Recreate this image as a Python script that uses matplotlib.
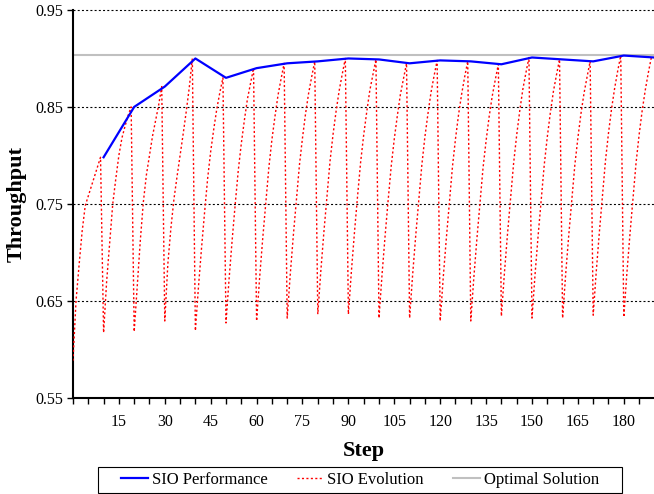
"""SIO throughput vs step: performance, evolution sawtooth and optimal line."""
import matplotlib
matplotlib.use('Agg')
import matplotlib.pyplot as plt
from matplotlib.patches import Rectangle

plt.rcParams['font.family'] = ['Liberation Serif', 'DejaVu Serif']

# SIO Performance: best value found after each 10-step cycle
perf_steps = [10, 20, 30, 40, 50, 60, 70, 80, 90, 100,
              110, 120, 130, 140, 150, 160, 170, 180, 190]
perf_vals = [0.798, 0.850, 0.871, 0.900, 0.880, 0.890, 0.895, 0.897, 0.900, 0.899,
             0.895, 0.898, 0.897, 0.894, 0.901, 0.899, 0.897, 0.903, 0.901]

# SIO Evolution: one value per step (0..189), one row per cycle
evo_vals = [
    0.588, 0.650, 0.687, 0.722, 0.748, 0.758, 0.768, 0.778, 0.788, 0.798,
    0.617, 0.670, 0.710, 0.750, 0.776, 0.800, 0.818, 0.830, 0.841, 0.850,
    0.618, 0.665, 0.712, 0.752, 0.780, 0.800, 0.820, 0.836, 0.852, 0.871,
    0.629, 0.688, 0.725, 0.755, 0.778, 0.800, 0.822, 0.845, 0.870, 0.900,
    0.619, 0.664, 0.704, 0.741, 0.776, 0.804, 0.827, 0.848, 0.865, 0.880,
    0.627, 0.672, 0.712, 0.749, 0.784, 0.812, 0.836, 0.858, 0.874, 0.890,
    0.629, 0.674, 0.714, 0.751, 0.787, 0.816, 0.840, 0.862, 0.879, 0.895,
    0.632, 0.677, 0.717, 0.754, 0.790, 0.818, 0.843, 0.864, 0.881, 0.897,
    0.636, 0.681, 0.721, 0.758, 0.794, 0.822, 0.846, 0.867, 0.884, 0.900,
    0.636, 0.681, 0.721, 0.758, 0.793, 0.821, 0.845, 0.867, 0.883, 0.899,
    0.632, 0.677, 0.717, 0.754, 0.789, 0.817, 0.841, 0.863, 0.879, 0.895,
    0.632, 0.677, 0.717, 0.754, 0.790, 0.819, 0.843, 0.865, 0.882, 0.898,
    0.629, 0.674, 0.714, 0.751, 0.788, 0.817, 0.842, 0.863, 0.881, 0.897,
    0.629, 0.674, 0.714, 0.751, 0.787, 0.815, 0.840, 0.861, 0.878, 0.894,
    0.634, 0.679, 0.719, 0.756, 0.792, 0.821, 0.846, 0.868, 0.885, 0.901,
    0.632, 0.677, 0.717, 0.754, 0.790, 0.819, 0.844, 0.866, 0.883, 0.899,
    0.632, 0.677, 0.717, 0.754, 0.790, 0.818, 0.843, 0.864, 0.881, 0.897,
    0.635, 0.680, 0.720, 0.757, 0.794, 0.823, 0.848, 0.869, 0.887, 0.903,
    0.633, 0.678, 0.718, 0.755, 0.792, 0.821, 0.846, 0.867, 0.885, 0.901,
]
evo_steps = list(range(len(evo_vals)))

optimal = 0.9035

y_ticks = [0.55, 0.65, 0.75, 0.85, 0.95]
x_labels = [15, 30, 45, 60, 75, 90, 105, 120, 135, 150, 165, 180]
x_minor = list(range(0, 190, 5))

W, H = 654, 494
fig = plt.figure(figsize=(W / 100, H / 100), dpi=100)
ax = fig.add_axes([0.1116, 0.1953, 0.889, 0.7844])

for y in y_ticks[1:]:
    ax.axhline(y, color='black', lw=0.8, ls=(0, (1.8, 2.0)), zorder=1, clip_on=False)

ax.axhline(optimal, color='#c0c0c0', lw=1.5, zorder=2, label='Optimal Solution')
ax.plot(evo_steps, evo_vals, color='red', lw=1.0, ls=(0, (1.5, 1.7)), zorder=3,
        label='SIO Evolution')
ax.plot(perf_steps, perf_vals, color='#0000ff', lw=1.6, zorder=4, label='SIO Performance')

ax.set_xlim(0, 190)
ax.set_ylim(0.55, 0.95)
ax.set_yticks(y_ticks)
ax.set_yticklabels([f'{v:.2f}' for v in y_ticks])
ax.set_xticks(x_minor, minor=True)
ax.set_xticks(x_labels)
ax.set_xticklabels([str(v) for v in x_labels])
ax.tick_params(axis='both', which='both', direction='out', length=4, width=1,
               labelsize=11.5, colors='black')
ax.tick_params(axis='x', which='both', pad=8)
ax.tick_params(axis='y', pad=3)

for side in ['top', 'right']:
    ax.spines[side].set_visible(False)
for side in ['left', 'bottom']:
    ax.spines[side].set_linewidth(1.5)

ax.set_xlabel('Step', fontsize=16, fontweight='bold', labelpad=8)
ax.set_ylabel('Throughput', fontsize=16, fontweight='bold')
ax.yaxis.set_label_coords(-0.079, 0.5)

h, l = ax.get_legend_handles_labels()
order = [2, 1, 0]
leg = fig.legend([h[i] for i in order], [l[i] for i in order], ncol=3,
                 loc='center', bbox_to_anchor=(360 / W, 1 - 480 / H), fontsize=12,
                 frameon=False, handlelength=1.6, handletextpad=0.25,
                 columnspacing=1.75, borderpad=0.3)

# legend frame drawn by hand: wider side padding than top/bottom
fig.patches.append(Rectangle((98 / W, 1 - 493 / H), 524 / W, 26.5 / H,
                             transform=fig.transFigure, fill=False,
                             edgecolor='black', lw=0.8))

fig.savefig('out.png', dpi=100)
